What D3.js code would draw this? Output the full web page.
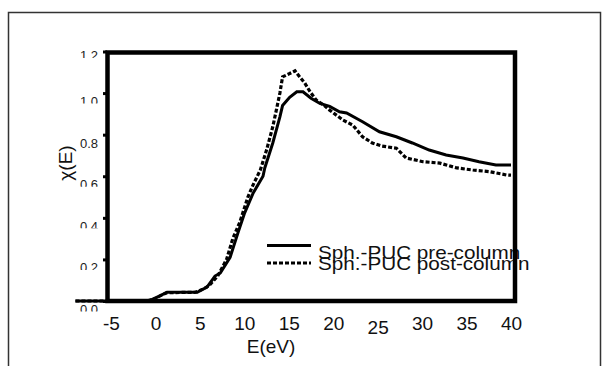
<!DOCTYPE html>
<html>
<head>
<meta charset="utf-8">
<script src="https://cdn.jsdelivr.net/npm/d3@7"></script>
<style>
    body { margin: 0; background: #fff; }
    svg { display: block; font-family: Arial, "Liberation Sans", sans-serif; }
</style>
</head>
<body>
<svg id="chart" width="612" height="366"></svg>
<script>
// Data
var preE   = [-9, -0.8, 0.5, 1.3, 4.7, 5.8, 6.7, 7.3, 8.4, 9.3, 10, 11, 12.1, 12.3, 13.2, 14, 14.3, 15.1, 15.9, 16.6,
              17.5, 18.5, 19.6, 20.7, 21.5, 23.3, 25.2, 27.1, 28.9, 30.8, 32.7, 34.6, 36.4, 38.3, 40];
var preChi = [0, 0, 0.025, 0.042, 0.042, 0.067, 0.12, 0.135, 0.21, 0.33, 0.42, 0.52, 0.6, 0.64, 0.76, 0.886, 0.94, 0.98, 1.006, 1.006,
              0.975, 0.95, 0.936, 0.91, 0.904, 0.862, 0.814, 0.79, 0.76, 0.726, 0.702, 0.688, 0.67, 0.654, 0.654];
var postE   = [-9, -1, 0, 0.5, 1.3, 4.5, 5.5, 6.1, 7, 8, 8.7, 9.5, 10.4, 11, 11.8, 12.5, 13.2, 13.6, 14, 14.3, 15.1, 15.7, 16,
               16.8, 17.4, 18.1, 19, 19.6, 21.1, 22.2, 23.3, 24.4, 25.5, 27.1, 28.2, 30.1, 32, 33.9, 35.7, 37.6, 39.5, 40];
var postChi = [0, 0, 0.01, 0.025, 0.04, 0.042, 0.06, 0.077, 0.12, 0.2, 0.3, 0.38, 0.5, 0.56, 0.63, 0.726, 0.838, 0.918, 1.0, 1.078, 1.094, 1.107, 1.09,
               1.048, 1.006, 0.966, 0.94, 0.918, 0.87, 0.846, 0.79, 0.76, 0.745, 0.735, 0.688, 0.67, 0.663, 0.64, 0.63, 0.622, 0.606, 0.605];
var xTicks = [-5, 0, 5, 10, 15, 20, 25, 30, 35, 40];
var yTicks = [0, 0.2, 0.4, 0.6, 0.8, 1.0, 1.2];
var seriesNames = ['Sph.-PUC pre-column', 'Sph.-PUC post-column'];

var svg = d3.select('#chart');

// Scales:
var xScale = d3.scaleLinear().domain([-5, 40]).range([111, 511]);
var yScale = d3.scaleLinear().domain([0, 1.2]).range([301, 51.5]);

// Outer frame
svg.append('rect').attr('x', 8.5).attr('y', 12.5).attr('width', 592).attr('height', 370)
   .attr('fill', 'none').attr('stroke', '#333').attr('stroke-width', 1.5);

// Curves
var line = d3.line().x((d) => xScale(d[0])).y((d) => yScale(d[1]));
svg.append('path').datum(d3.zip(preE, preChi))
   .attr('d', line).attr('fill', 'none').attr('stroke', '#000').attr('stroke-width', 3);
svg.append('path').datum(d3.zip(postE, postChi))
   .attr('d', line).attr('fill', 'none').attr('stroke', '#000').attr('stroke-width', 3.2)
   .attr('stroke-dasharray', '4,2');

// Y axis (ticks outward, labels with their lower part cut like the scan)
var yAxis = svg.append('g').attr('transform', 'translate(107, 0)')
   .call(d3.axisLeft(yScale).tickValues(yTicks).tickFormat(d3.format('.1f')).tickSize(4).tickPadding(5));
yAxis.select('.domain').remove();
yAxis.selectAll('.tick line').attr('stroke', '#000').attr('stroke-width', 3);
yAxis.selectAll('.tick text').attr('font-size', 13).attr('fill', '#222').attr('font-family', null)
     .attr('dy', '0.95em');
var defs = svg.append('defs');
yTicks.forEach(function(v, i) {
    if (v === 0.8) return;
    defs.append('clipPath').attr('id', 'yclip' + i)
        .append('rect').attr('x', -30).attr('y', -20).attr('width', 30)
        .attr('height', v === 1.2 ? 26 : 30);
});
yAxis.selectAll('.tick').each(function(v, i) {
    if (v === 0.8) return;
    d3.select(this).select('text').attr('clip-path', 'url(#yclip' + i + ')');
});
yAxis.selectAll('.tick').filter((d) => d === 1.2).select('text').attr('dy', '0.6em');

// X axis labels only
var xAxis = svg.append('g').attr('transform', 'translate(0, 303)')
   .call(d3.axisBottom(xScale).tickValues(xTicks).tickFormat((d) => String(d)).tickSize(0).tickPadding(14));
xAxis.select('.domain').remove();
xAxis.selectAll('.tick text').attr('font-size', 19).attr('fill', '#111').attr('font-family', null)
     .attr('dy', '0.7em')
     .attr('y', (d) => d === 25 ? 18 : 14);

// Axis titles
svg.append('text').attr('transform', 'translate(72, 163) rotate(-90)')
   .attr('text-anchor', 'middle').attr('font-size', 19).attr('fill', '#111').text('\u03C7(E)');
svg.append('text').attr('x', 271).attr('y', 353)
   .attr('text-anchor', 'middle').attr('font-size', 19).attr('fill', '#111').text('E(eV)');

// Legend
var legend = svg.append('g');
legend.append('line').attr('x1', 267).attr('x2', 311).attr('y1', 245.5).attr('y2', 245.5)
      .attr('stroke', '#000').attr('stroke-width', 3);
legend.append('line').attr('x1', 267).attr('x2', 311).attr('y1', 263).attr('y2', 263)
      .attr('stroke', '#000').attr('stroke-width', 3).attr('stroke-dasharray', '4,2');
legend.selectAll('text.name').data(seriesNames).enter().append('text').classed('name', true)
      .attr('transform', (d, i) => 'translate(318, ' + (259 + 11 * i) + ') scale(1.15, 1)')
      .attr('font-size', 18).attr('fill', '#111').text((d) => d);

// Plot frame on top
svg.append('rect').attr('x', 107.5).attr('y', 52.5).attr('width', 407.5).attr('height', 248.5)
   .attr('fill', 'none').attr('stroke', '#000').attr('stroke-width', 4.5);
</script>
</body>
</html>
